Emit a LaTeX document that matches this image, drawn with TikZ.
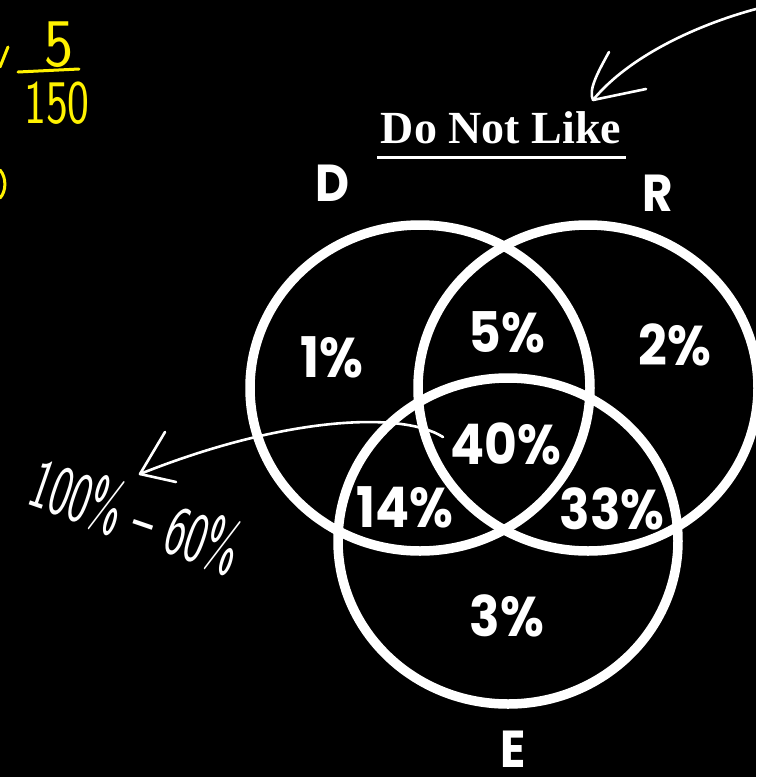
\documentclass[tikz,border=0pt]{standalone}
\usepackage{fontspec}
\newfontfamily\pop{Poppins}[FakeStretch=0.9]
\newfontfamily\tnr{Liberation Serif}
\definecolor{hw}{RGB}{255,242,0}
\begin{document}
\begin{tikzpicture}[x=1pt,y=-1pt,
  venn/.style={draw=white,line width=9.5pt},
  pct/.style={text=white,inner sep=0pt,font=\pop\bfseries\fontsize{56}{56}\selectfont},
  setlab/.style={text=white,inner sep=0pt,font=\pop\bfseries\fontsize{52}{52}\selectfont},
  ink/.style={draw=white,line width=2.6pt,line cap=round,line join=round},
  yink/.style={draw=hw,line width=3pt,line cap=round,line join=round},
  handw/.style={inner sep=0pt,font=\sffamily\fontsize{62}{62}\selectfont},
]
\fill[black] (0,0) rectangle (756,777);
\useasboundingbox (0,0) rectangle (756,777);

% Venn circles
\draw[venn] (420,388) ellipse [x radius=170pt, y radius=163pt];
\draw[venn] (588,388) ellipse [x radius=170pt, y radius=163pt];
\draw[venn] (508,541) ellipse [x radius=170pt, y radius=163pt];

% set labels
\node[setlab] (labD) at (333,183) {D};
\node[setlab] (labR) at (658,193) {R};
\node[setlab] (labE) at (513,749) {E};

% region values
\node[pct] (p1)  at (332,357) {1\%};
\node[pct] (p5)  at (507,332) {5\%};
\node[pct] (p2)  at (675,345) {2\%};
\node[pct] (p40) at (506,444) {40\%};
\node[pct] (p14) at (405,507) {14\%};
\node[pct] (p33) at (612,509) {33\%};
\node[pct] (p3)  at (507,616) {3\%};

% title
\node[text=white,inner sep=0pt,anchor=base,font=\tnr\bfseries\fontsize{46}{46}\selectfont] (title) at (501,143) {Do Not Like};
\draw[white,line width=3pt] (377,157) -- (626,157);

% handwritten arrow, top right
\coordinate (t0) at (756,9);
\coordinate (t1) at (593,100);
\draw[ink] (t0) .. controls (700,24) and (630,55) .. (t1);
\draw[ink] (609,52) .. controls (598,72) and (588,90) .. (t1) -- (646,89);

% handwritten note with arrow
\node[handw,text=white,rotate=-19] (calc) at (136,516) {\scalebox{0.7}[1.15]{100\% \textendash\ 60\%}};
\coordinate (a0) at (443,437);
\coordinate (a1) at (140,474);
\draw[ink] (a0) .. controls (400,410) and (280,418) .. (a1);
\draw[ink] (165,432) -- (a1) -- (176,482);

% yellow handwriting, top left
\node[handw,text=hw] (five) at (59,45) {\scalebox{1}[1.1]{5}};
\node[handw,text=hw] (den) at (57,103) {\scalebox{0.75}[1]{150}};
\draw[yink] (18,72) -- (79,69);
\draw[yink] (0,67) -- (8,47);
\draw[yink] (0,170) .. controls (7,178) and (6,192) .. (0,198);
\end{tikzpicture}
\end{document}
